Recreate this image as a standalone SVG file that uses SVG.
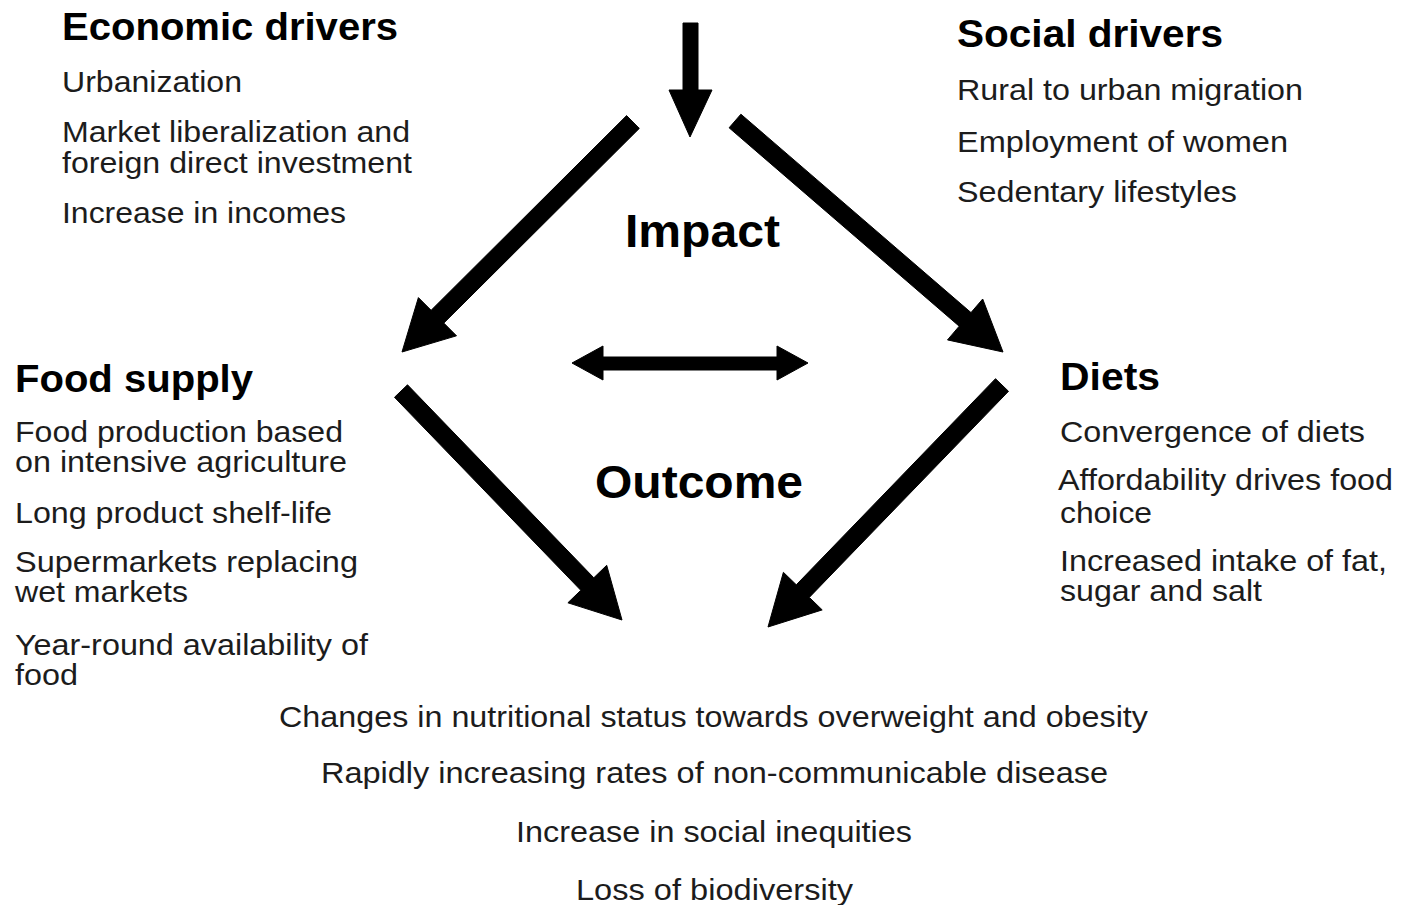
<svg xmlns="http://www.w3.org/2000/svg" width="1403" height="905" viewBox="0 0 1403 905">
  <style>
    text { font-family: "Liberation Sans", Arial, sans-serif; }
    .h { font-weight: bold; font-size: 38px; fill: #000; }
    .t { font-size: 29px; fill: #1c1c1c; }
    .c { font-weight: bold; font-size: 47px; fill: #000; }
    .arrow { fill: #000; stroke: #000; stroke-width: 1; stroke-linejoin: miter; }
  </style>
  <rect width="1403" height="905" fill="#fff"/>

  <!-- Connectors: thick block arrows -->
  <g id="connectors">
    <!-- incoming arrow from above -->
    <polygon class="arrow" points="683,23 698,23 698,90 712,90 690,137 669,90 683,90"/>
    <!-- impact: to food supply -->
    <polygon class="arrow" points="639.3,128.4 443.8,323.1 456.5,335.8 402,352 418.4,297.6 431.1,310.3 626.6,115.6"/>
    <!-- impact: to diets -->
    <polygon class="arrow" points="729.1,127.8 959.2,326.2 947.5,339.9 1003,352 982.7,299 971,312.6 740.9,114.2"/>
    <!-- food supply <-> diets -->
    <polygon class="arrow" points="572,363 603,346 603,357 777,357 777,346 808,363 777,380 777,370 603,370 603,380"/>
    <!-- outcome: from food supply -->
    <polygon class="arrow" points="394.5,397.3 580.8,590.3 567.9,602.8 622,620 606.7,565.3 593.8,577.8 407.5,384.8"/>
    <!-- outcome: from diets -->
    <polygon class="arrow" points="1008.5,391.3 809.3,597.4 822.2,609.9 768,627 783.4,572.3 796.3,584.8 995.5,378.7"/>
  </g>

  <g id="economic-drivers">
    <text class="h" x="62" y="40" textLength="336" lengthAdjust="spacingAndGlyphs">Economic drivers</text>
    <text class="t" x="62" y="92" textLength="180" lengthAdjust="spacingAndGlyphs">Urbanization</text>
    <text class="t" x="62" y="142" textLength="348" lengthAdjust="spacingAndGlyphs">Market liberalization and</text>
    <text class="t" x="62" y="173" textLength="350" lengthAdjust="spacingAndGlyphs">foreign direct investment</text>
    <text class="t" x="62" y="223" textLength="284" lengthAdjust="spacingAndGlyphs">Increase in incomes</text>
  </g>

  <g id="social-drivers">
    <text class="h" x="957" y="47" textLength="266" lengthAdjust="spacingAndGlyphs">Social drivers</text>
    <text class="t" x="957" y="100" textLength="346" lengthAdjust="spacingAndGlyphs">Rural to urban migration</text>
    <text class="t" x="957" y="152" textLength="331" lengthAdjust="spacingAndGlyphs">Employment of women</text>
    <text class="t" x="957" y="202" textLength="280" lengthAdjust="spacingAndGlyphs">Sedentary lifestyles</text>
  </g>

  <g id="food-supply">
    <text class="h" x="15" y="392" textLength="238" lengthAdjust="spacingAndGlyphs">Food supply</text>
    <text class="t" x="15" y="442" textLength="328" lengthAdjust="spacingAndGlyphs">Food production based</text>
    <text class="t" x="15" y="472" textLength="332" lengthAdjust="spacingAndGlyphs">on intensive agriculture</text>
    <text class="t" x="15" y="523" textLength="317" lengthAdjust="spacingAndGlyphs">Long product shelf-life</text>
    <text class="t" x="15" y="572" textLength="343" lengthAdjust="spacingAndGlyphs">Supermarkets replacing</text>
    <text class="t" x="15" y="602" textLength="173" lengthAdjust="spacingAndGlyphs">wet markets</text>
    <text class="t" x="15" y="655" textLength="353" lengthAdjust="spacingAndGlyphs">Year-round availability of</text>
    <text class="t" x="15" y="685" textLength="63" lengthAdjust="spacingAndGlyphs">food</text>
  </g>

  <g id="diets">
    <text class="h" x="1060" y="390" textLength="100" lengthAdjust="spacingAndGlyphs">Diets</text>
    <text class="t" x="1060" y="442" textLength="305" lengthAdjust="spacingAndGlyphs">Convergence of diets</text>
    <text class="t" x="1058" y="490" textLength="335" lengthAdjust="spacingAndGlyphs">Affordability drives food</text>
    <text class="t" x="1060" y="523" textLength="92" lengthAdjust="spacingAndGlyphs">choice</text>
    <text class="t" x="1060" y="571" textLength="327" lengthAdjust="spacingAndGlyphs">Increased intake of fat,</text>
    <text class="t" x="1060" y="601" textLength="202" lengthAdjust="spacingAndGlyphs">sugar and salt</text>
  </g>

  <g id="impact-label">
    <text class="c" x="625" y="247" textLength="155" lengthAdjust="spacingAndGlyphs">Impact</text>
  </g>

  <g id="outcome-label">
    <text class="c" x="595" y="498" textLength="208" lengthAdjust="spacingAndGlyphs">Outcome</text>
  </g>

  <g id="outcomes">
    <text class="t" x="279" y="727" textLength="869" lengthAdjust="spacingAndGlyphs">Changes in nutritional status towards overweight and obesity</text>
    <text class="t" x="321" y="783" textLength="787" lengthAdjust="spacingAndGlyphs">Rapidly increasing rates of non-communicable disease</text>
    <text class="t" x="516" y="842" textLength="396" lengthAdjust="spacingAndGlyphs">Increase in social inequities</text>
    <text class="t" x="576" y="900" textLength="277" lengthAdjust="spacingAndGlyphs">Loss of biodiversity</text>
  </g>
</svg>
